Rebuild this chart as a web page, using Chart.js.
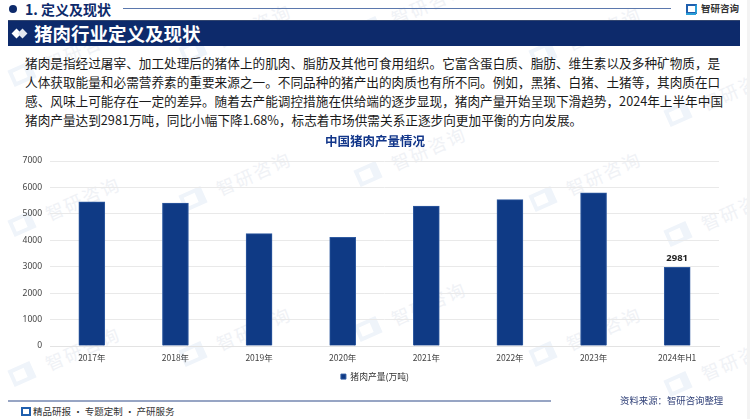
<!DOCTYPE html>
<html lang="zh">
<head>
<meta charset="utf-8">
<script src="https://cdn.jsdelivr.net/npm/chart.js@4"></script>
<style>
  html, body { margin: 0; padding: 0; background: #fff; }
  body { position: relative; width: 750px; height: 419px; overflow: hidden;
         font-family: "Noto Sans CJK SC", "Noto Sans", sans-serif; }
  .abs { position: absolute; white-space: nowrap; }
  .wm { position: absolute; transform: rotate(-24deg); transform-origin: left center;
        color: #f0f2f6; font-size: 18px; letter-spacing: 2px; white-space: nowrap; }
  .wm-icon { position: absolute; width: 24px; height: 18px; transform: rotate(-24deg);
             border: 4px solid #eff4fa; border-right-width: 8px; box-sizing: border-box; }
  .line { position: absolute; left: 25px; width: 710px; height: 19px; line-height: 19px;
          font-size: 12.65px; color: #1a1a1a; white-space: nowrap; }
  #chartBox { position: absolute; left: 0; top: 129px; width: 750px; height: 264px; }
</style>
</head>
<body>
<div id="marks"></div>

<div class="abs" style="left:9px;top:5px;width:8px;height:8px;border-radius:50%;background:#0d2a6b"></div>
<div class="abs" style="left:25px;top:0;font-size:14px;line-height:18px;font-weight:700;color:#0d2a6b">1. 定义及现状</div>
<div class="abs" style="left:123px;top:8px;width:548px;height:1px;background:#5b78ad"></div>
<div class="abs" style="left:686px;top:4px;width:7px;height:6px;border:2px solid #1f5fae;border-right-color:#2a9fd8"></div>
<div class="abs" style="left:686px;top:13px;width:10px;height:2px;background:#2a9fd8"></div>
<div class="abs" style="left:701px;top:0;font-size:9.5px;line-height:17px;font-weight:700;color:#333">智研咨询</div>

<div class="abs" style="left:8px;top:20px;width:732px;height:26px;background:#0d2a6b;border-top:1px solid #33466f;box-sizing:border-box"></div>
<div class="abs" style="left:13px;top:30px;width:7px;height:7px;background:#fff;transform:rotate(45deg)"></div>
<div class="abs" style="left:19px;top:30px;width:7px;height:7px;background:#e4e8f0;transform:rotate(45deg)"></div>
<div class="abs" style="left:34px;top:20px;font-size:18.5px;line-height:26px;font-weight:700;color:#fff">猪肉行业定义及现状</div>

<div class="line" style="top:53px">猪肉是指经过屠宰、加工处理后的猪体上的肌肉、脂肪及其他可食用组织。它富含蛋白质、脂肪、维生素以及多种矿物质，是</div>
<div class="line" style="top:72px">人体获取能量和必需营养素的重要来源之一。不同品种的猪产出的肉质也有所不同。例如，黑猪、白猪、土猪等，其肉质在口</div>
<div class="line" style="top:91px">感、风味上可能存在一定的差异。随着去产能调控措施在供给端的逐步显现，猪肉产量开始呈现下滑趋势，2024年上半年中国</div>
<div class="line" style="top:110px">猪肉产量达到2981万吨，同比小幅下降1.68%，标志着市场供需关系正逐步向更加平衡的方向发展。</div>

<div id="chartBox"><canvas id="prodChart"></canvas></div>

<div class="abs" style="left:8px;top:400px;width:543px;height:2px;background:#97a5c4"></div>
<div class="abs" style="left:21px;top:407px;width:6px;height:5px;border:2px solid #1f5fae"></div>
<div class="abs" style="left:33px;top:403px;font-size:9.5px;line-height:16px;color:#333">精品研报 · 专题定制 · 产研服务</div>
<div class="abs" style="left:620px;top:392px;font-size:9.4px;line-height:16px;color:#33437a">资料来源：智研咨询整理</div>
<div class="abs" style="left:747px;top:0;width:3px;height:419px;background:#f3f3f3"></div>

<script>
const categories = ["2017年", "2018年", "2019年", "2020年", "2021年", "2022年", "2023年", "2024年H1"];
const porkOutput = [5452, 5404, 4255, 4113, 5296, 5541, 5794, 2981];
const yTicks = [0, 1000, 2000, 3000, 4000, 5000, 6000, 7000];
const labelledBars = [7];
const watermarkSpots = [
  [34, 65], [205, 42], [380, 20], [555, 45], [690, 105],
  [34, 215], [205, 190], [380, 165], [555, 190], [690, 225],
  [34, 365], [205, 345], [380, 320], [555, 345], [690, 375]
];

// faint company marks behind the page
const marks = document.getElementById("marks");
watermarkSpots.forEach(([x, y]) => {
  const icon = document.createElement("div");
  icon.className = "wm-icon";
  icon.style.left = x - 24 + "px";
  icon.style.top = y + "px";
  marks.appendChild(icon);
  const text = document.createElement("div");
  text.className = "wm";
  text.style.left = x + 12 + "px";
  text.style.top = y - 14 + "px";
  text.textContent = "智研咨询";
  marks.appendChild(text);
});

// only the last bar carries a value label
const barLabels = {
  id: "barLabels",
  afterDatasetsDraw(chart) {
    const ctx = chart.ctx;
    const bars = chart.getDatasetMeta(0).data;
    ctx.save();
    ctx.font = "700 9.5px 'Noto Sans', sans-serif";
    ctx.fillStyle = "#222";
    ctx.textAlign = "center";
    ctx.textBaseline = "bottom";
    labelledBars.forEach((i) => ctx.fillText(porkOutput[i], bars[i].x, bars[i].y - 4));
    ctx.restore();
  },
};

new Chart(document.getElementById("prodChart"), {
  type: "bar",
  data: {
    labels: categories,
    datasets: [
      {
        label: "猪肉产量(万吨)",
        data: porkOutput,
        backgroundColor: "#0f3a85",
        borderColor: "#2f5aa0",
        borderWidth: 1,
        barThickness: 26,
      },
    ],
  },
  options: {
    responsive: true,
    maintainAspectRatio: false,
    animation: false,
    layout: { padding: { bottom: 2 } },
    plugins: {
      title: {
        display: true,
        text: "中国猪肉产量情况",
        color: "#12368a",
        font: { size: 12.5, weight: "700", family: "'Noto Sans CJK SC'" },
        padding: { top: 5, bottom: 12 },
      },
      legend: {
        position: "bottom",
        labels: {
          boxWidth: 5,
          boxHeight: 5,
          padding: 2,
          color: "#333",
          font: { size: 8.8, family: "'Noto Sans CJK SC'" },
        },
      },
      tooltip: { enabled: false },
    },
    scales: {
      x: {
        grid: { display: false, drawTicks: false },
        border: { color: "#e3e3e3" },
        ticks: {
          color: "#444",
          padding: 7,
          maxRotation: 0,
          font: { size: 8.5, family: "'Noto Sans CJK SC'" },
        },
      },
      y: {
        min: 0,
        max: 7000,
        afterFit(scale) { scale.width = 50; },
        afterBuildTicks(scale) { scale.ticks = yTicks.map((value) => ({ value })); },
        grid: { color: "#e9e9e9", drawTicks: false },
        border: { display: false },
        ticks: {
          color: "#444",
          padding: 8,
          callback: (value) => String(value),
          font: { size: 8.5, family: "'Noto Sans', sans-serif" },
        },
      },
      // empty right axis, holds the right margin so title and legend stay page-centred
      yMargin: {
        type: "linear",
        position: "right",
        afterFit(scale) { scale.width = 31; },
        grid: { display: false, drawTicks: false },
        border: { display: false },
        ticks: { display: false },
      },
    },
  },
  plugins: [barLabels],
});
</script>
</body>
</html>
